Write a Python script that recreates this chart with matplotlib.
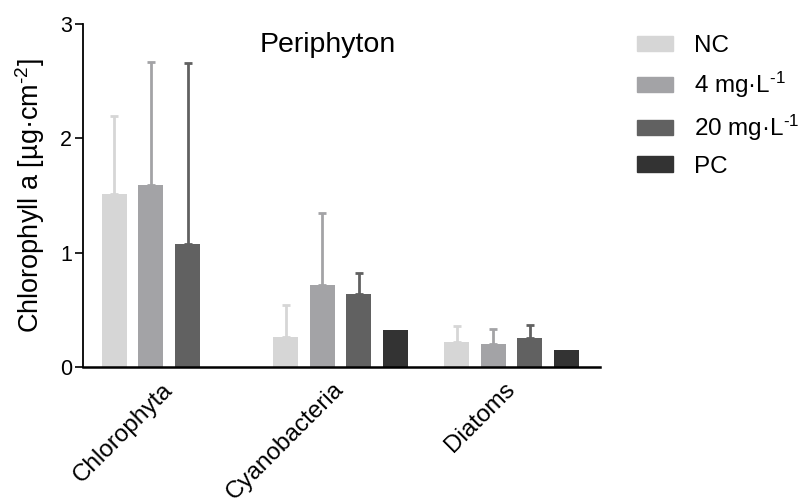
import numpy as np
import matplotlib.pyplot as plt
from matplotlib.patches import Patch

plt.rcParams['font.family'] = ['Liberation Sans', 'DejaVu Sans']
plt.rcParams['mathtext.fontset'] = 'custom'
plt.rcParams['mathtext.rm'] = 'Liberation Sans'
plt.rcParams['mathtext.it'] = 'Liberation Sans'

groups = ['Chlorophyta', 'Cyanobacteria', 'Diatoms']
treatments = ['NC', '4 mg·L$^{\\text{-1}}$', '20 mg·L$^{\\text{-1}}$', 'PC']
colors = ['#d6d6d6', '#a3a3a6', '#616161', '#333333']

# means and upper error (SD); nan = no bar
nc_mean = [1.51, 0.26, 0.22]
nc_err = [0.69, 0.28, 0.14]
c4_mean = [1.59, 0.72, 0.20]
c4_err = [1.08, 0.63, 0.13]
c20_mean = [1.08, 0.64, 0.25]
c20_err = [1.58, 0.18, 0.12]
pc_mean = [np.nan, 0.32, 0.15]
pc_err = [np.nan, 0.0, 0.0]

means = [nc_mean, c4_mean, c20_mean, pc_mean]
errs = [nc_err, c4_err, c20_err, pc_err]

fig = plt.figure(figsize=(8, 5.04), dpi=100)
ax = fig.add_axes([0.104, 0.272, 0.646, 0.68])

x = np.arange(len(groups))
step = 0.2135
width = 0.146
for i in range(4):
    pos = x + (i - 1.5) * step
    m = np.array(means[i])
    e = np.array(errs[i])
    ax.bar(pos, m, width, color=colors[i], zorder=2)
    ok = ~np.isnan(m) & (e > 0)
    ax.errorbar(pos[ok], m[ok], yerr=[np.zeros(ok.sum()), e[ok]], fmt='none',
                ecolor=colors[i], elinewidth=2, capsize=3, capthick=2, zorder=1)

ax.set_xlim(-0.503, 2.518)
ax.set_ylim(0, 3)
ax.set_yticks([0, 1, 2, 3])
ax.spines['top'].set_visible(False)
ax.spines['right'].set_visible(False)
ax.spines['left'].set_linewidth(1.3)
ax.spines['bottom'].set_linewidth(1.8)
ax.tick_params(axis='y', labelsize=15.5, length=6, width=1.2, pad=2)
ax.tick_params(axis='x', length=0, labelsize=17.5, pad=14)
ax.set_xticks(x)
ax.set_xticklabels(groups, rotation=45, ha='right', va='center', rotation_mode='anchor')
ax.set_ylabel('Chlorophyll a [µg·cm$^{\\text{-2}}$]', fontsize=19.5, labelpad=9)
ax.text(0.924, 2.82, 'Periphyton', fontsize=20.5, ha='center', va='center')

handles = [Patch(color=c) for c in colors]
fig.legend(handles, treatments, loc='upper left', bbox_to_anchor=(0.796, 0.93),
           frameon=False, fontsize=17.5, handlelength=1.48, handleheight=0.58,
           labelspacing=0.52, handletextpad=0.86, borderpad=0, borderaxespad=0)

fig.savefig('out.png', dpi=100)
